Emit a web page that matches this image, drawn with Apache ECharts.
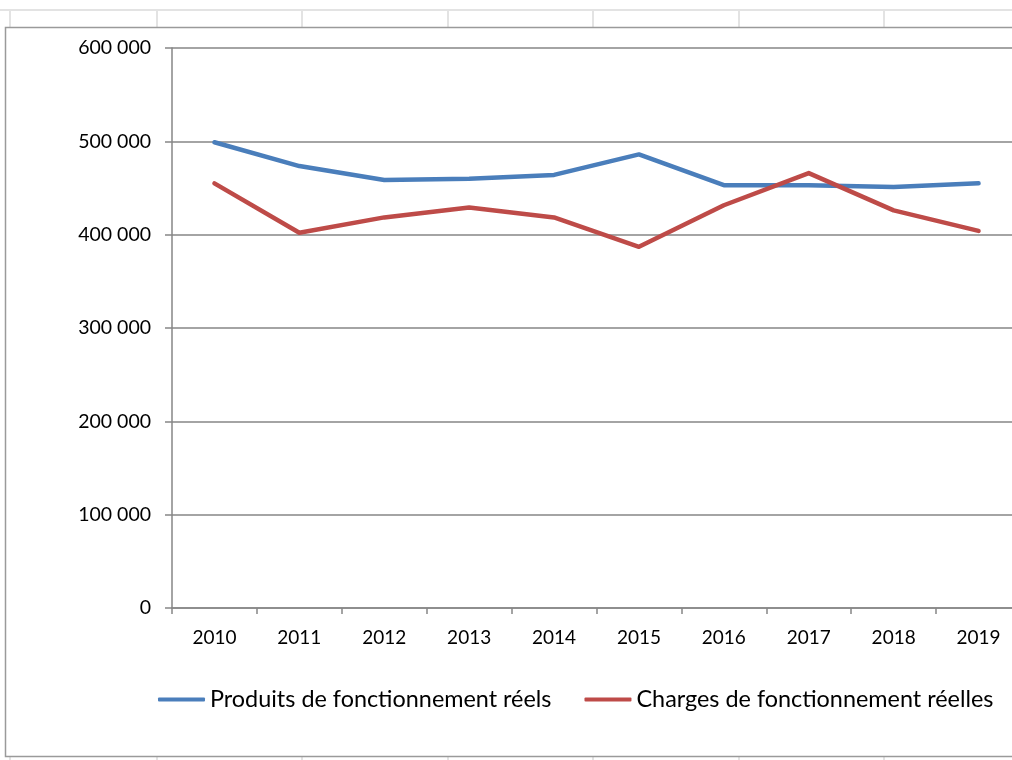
<!DOCTYPE html>
<html>
<head>
<meta charset="utf-8">
<script src="https://cdn.jsdelivr.net/npm/echarts@6/dist/echarts.min.js"></script>
<style>
  html, body { margin: 0; padding: 0; background: #fff; overflow: hidden; }
  #chart { width: 1030px; height: 760px; }
</style>
</head>
<body>
<div id="chart"></div>
<script>
  const years = ['2010', '2011', '2012', '2013', '2014', '2015', '2016', '2017', '2018', '2019']
  const produits = [499000, 473500, 458500, 460000, 464000, 486000, 453000, 453000, 451000, 455000]
  const charges = [455000, 402000, 418500, 429000, 418500, 387000, 431500, 466000, 426000, 404000]
  const yTicks = [0, 100000, 200000, 300000, 400000, 500000, 600000]
  const yTickLabels = ['0', '100 000', '200 000', '300 000', '400 000', '500 000', '600 000']
  const seriesNames = ['Produits de fonctionnement réels', 'Charges de fonctionnement réelles']

  const FONT = 'Lato, "Open Sans", sans-serif'
  const chart = echarts.init(document.getElementById('chart'), null, { renderer: 'canvas' })

  // spreadsheet cells behind the chart object
  const sheetCols = [10, 157, 302, 448, 593, 739, 884]
  const sheet = [
    { type: 'rect', shape: { x: 0, y: 9, width: 1030, height: 2 }, style: { fill: '#e3e3e3' }, z: -10 }
  ]
  sheetCols.forEach(x => {
    sheet.push({ type: 'rect', shape: { x: x - 1, y: 10, width: 2, height: 17 }, style: { fill: '#e3e3e3' }, z: -10 })
    sheet.push({ type: 'rect', shape: { x: x - 1, y: 757, width: 2, height: 3 }, style: { fill: '#e3e3e3' }, z: -10 })
  })
  sheet.push({
    type: 'rect',
    shape: { x: 5.5, y: 27.5, width: 1100, height: 729 },
    style: { fill: 'transparent', stroke: '#9a9a9a', lineWidth: 1.5 },
    z: -5
  })

  const option = {
    animation: false,
    backgroundColor: '#fff',
    graphic: sheet,
    grid: { left: 172, top: 48, right: 9, bottom: 152 },
    legend: {
      left: 153,
      top: 683,
      itemWidth: 47,
      itemHeight: 4,
      itemGap: 33,
      icon: 'roundRect',
      textStyle: { fontFamily: FONT, fontSize: 23.4, color: '#000' },
      data: seriesNames
    },
    xAxis: {
      type: 'category',
      data: years,
      boundaryGap: true,
      axisLine: { lineStyle: { color: '#868686', width: 1.5 } },
      axisTick: { show: true, length: 6, lineStyle: { color: '#868686', width: 1.5 } },
      axisLabel: { color: '#000', fontFamily: FONT, fontSize: 19, margin: 20 },
      splitLine: { show: false }
    },
    yAxis: {
      type: 'value',
      min: 0,
      max: 600000,
      interval: 100000,
      axisLine: { show: true, lineStyle: { color: '#868686', width: 1.5 } },
      axisTick: { show: true, length: 7, lineStyle: { color: '#868686', width: 1.5 } },
      axisLabel: {
        color: '#000',
        fontFamily: FONT,
        fontSize: 19.5,
        margin: 21,
        formatter: v => yTickLabels[yTicks.indexOf(v)] ?? ''
      },
      splitLine: { lineStyle: { color: '#868686', width: 1.5 } }
    },
    series: [
      {
        name: seriesNames[0],
        type: 'line',
        data: produits,
        symbol: 'none',
        lineStyle: { color: '#4a7ebb', width: 4.5, cap: 'round', join: 'round' },
        itemStyle: { color: '#4a7ebb' }
      },
      {
        name: seriesNames[1],
        type: 'line',
        data: charges,
        symbol: 'none',
        lineStyle: { color: '#be4b48', width: 4.5, cap: 'round', join: 'round' },
        itemStyle: { color: '#be4b48' }
      }
    ]
  }

  chart.setOption(option)
</script>
</body>
</html>
